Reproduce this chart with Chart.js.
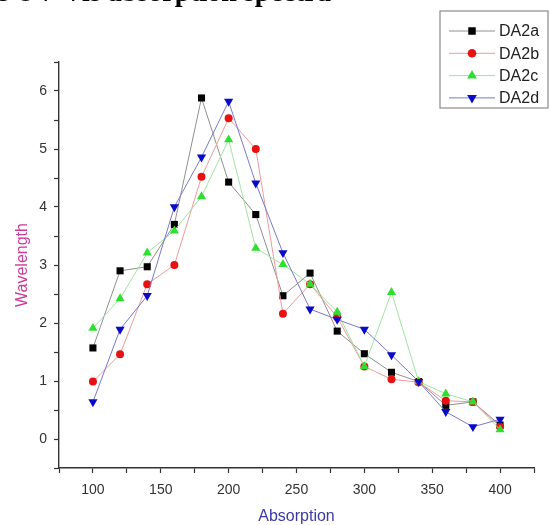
<!DOCTYPE html>
<html>
<head>
<meta charset="utf-8">
<script src="https://cdn.jsdelivr.net/npm/chart.js@4.4.1/dist/chart.umd.min.js"></script>
<style>
  html, body { margin: 0; padding: 0; background: #fff; }
  #wrap { width: 550px; height: 525px; }
</style>
</head>
<body>
<div id="wrap"><canvas id="chart" width="550" height="525"></canvas></div>
<script>
// values
const absorption = [100, 120, 140, 160, 180, 200, 220, 240, 260, 280, 300, 320, 340, 360, 380, 400];
const da2a = [1.57, 2.90, 2.97, 3.70, 5.88, 4.43, 3.87, 2.47, 2.86, 1.86, 1.47, 1.15, 0.99, 0.58, 0.64, 0.24];
const da2b = [0.99, 1.46, 2.67, 3.00, 4.52, 5.53, 5.00, 2.16, 2.67, 2.10, 1.25, 1.03, 0.98, 0.66, 0.64, 0.21];
const da2c = [1.91, 2.42, 3.21, 3.59, 4.18, 5.16, 3.29, 3.01, 2.67, 2.19, 1.25, 2.53, 0.99, 0.78, 0.64, 0.16];
const da2d = [0.64, 1.89, 2.47, 4.00, 4.86, 5.82, 4.41, 3.21, 2.24, 2.06, 1.89, 1.45, 0.99, 0.47, 0.21, 0.34];
const seriesNames = ['DA2a', 'DA2b', 'DA2c', 'DA2d'];
const xTickLabels = [100, 150, 200, 250, 300, 350, 400];
const yTickLabels = [0, 1, 2, 3, 4, 5, 6];

const pts = arr => arr.map((v, i) => ({ x: absorption[i], y: v }));

const mk = (label, values, marker, line, style, radius, rot, order) => ({
  label: label,
  data: pts(values),
  borderColor: line,
  borderWidth: 1,
  backgroundColor: marker,
  pointBackgroundColor: marker,
  pointBorderColor: marker,
  pointBorderWidth: 0,
  pointStyle: style,
  pointRadius: radius,
  pointRotation: rot,
  tension: 0,
  order: order
});

const datasets = [
  mk(seriesNames[0], da2a, '#000000', '#8f8f8f', 'rect', 5, 0, 4),
  mk(seriesNames[1], da2b, '#e81010', '#ee9a9a', 'circle', 4, 0, 3),
  mk(seriesNames[2], da2c, '#2ee02e', '#9fe59f', 'triangle', 5.3, 0, 2),
  mk(seriesNames[3], da2d, '#0a0ac8', '#7878cc', 'triangle', 5.3, 180, 1)
];

// cropped heading at the very top
const topHeading = {
  id: 'topHeading',
  afterDraw(chart) {
    const ctx = chart.ctx;
    ctx.save();
    ctx.font = 'bold 28px "Liberation Serif", "Times New Roman", serif';
    ctx.fillStyle = '#000';
    ctx.textAlign = 'right';
    ctx.textBaseline = 'alphabetic';
    ctx.fillText('The UV-Vis absorption spectra', 331, 1);
    ctx.restore();
  }
};

// Origin-style boxed legend in the top right corner
const boxLegend = {
  id: 'boxLegend',
  afterDraw(chart) {
    const ctx = chart.ctx;
    const x0 = 440, y0 = 11, w = 108, h = 97;
    ctx.save();
    ctx.strokeStyle = '#8a8a8a';
    ctx.lineWidth = 1.2;
    ctx.fillStyle = '#fff';
    ctx.fillRect(x0, y0, w, h);
    ctx.strokeRect(x0, y0, w, h);
    chart.data.datasets.forEach((ds, i) => {
      const y = 31 + i * 22.3;
      ctx.strokeStyle = ds.borderColor;
      ctx.lineWidth = 1;
      ctx.beginPath();
      ctx.moveTo(449, y);
      ctx.lineTo(495, y);
      ctx.stroke();
      ctx.fillStyle = ds.pointBackgroundColor;
      ctx.strokeStyle = ds.pointBorderColor;
      Chart.helpers.drawPoint(ctx, {
        pointStyle: ds.pointStyle,
        rotation: ds.pointRotation,
        radius: ds.pointRadius + 0.3,
        borderWidth: 0
      }, 472, y);
      ctx.fillStyle = '#222';
      ctx.font = '16px "Liberation Sans", Arial, sans-serif';
      ctx.textAlign = 'left';
      ctx.textBaseline = 'middle';
      ctx.fillText(ds.label, 499, y + 1);
    });
    ctx.restore();
  }
};

const tickFont = { family: '"Liberation Sans", Arial, sans-serif', size: 14 };

new Chart(document.getElementById('chart'), {
  type: 'line',
  data: { datasets: datasets },
  options: {
    responsive: false,
    animation: false,
    devicePixelRatio: 1,
    layout: { padding: { top: 62, right: 16, bottom: 0, left: 0 } },
    plugins: {
      legend: { display: false },
      tooltip: { enabled: false }
    },
    scales: {
      x: {
        type: 'linear',
        min: 75,
        max: 425,
        afterFit: s => { s.height = 57; },
        ticks: {
          stepSize: 25,
          autoSkip: false,
          maxRotation: 0,
          color: '#333',
          font: tickFont,
          padding: 9,
          callback: v => xTickLabels.includes(v) ? String(v) : ''
        },
        grid: { drawOnChartArea: false, tickLength: 5, tickColor: '#333', tickWidth: 1.2 },
        border: { display: true, color: '#333', width: 1.4 },
        title: {
          display: true,
          text: 'Absorption',
          color: '#3a3aa8',
          font: { family: '"Liberation Sans", Arial, sans-serif', size: 16, lineHeight: 1 },
          padding: { top: 0, bottom: 0 }
        }
      },
      y: {
        min: -0.5,
        max: 6.5,
        afterFit: s => { s.width = 59; },
        ticks: {
          stepSize: 0.5,
          autoSkip: false,
          color: '#333',
          font: tickFont,
          padding: 7,
          callback: v => yTickLabels.includes(v) ? String(v) : ''
        },
        grid: { drawOnChartArea: false, tickLength: 5, tickColor: '#333', tickWidth: 1.2 },
        border: { display: true, color: '#333', width: 1.4 },
        title: {
          display: true,
          text: 'Wavelength',
          color: '#cc3a98',
          font: { family: '"Liberation Sans", Arial, sans-serif', size: 16, lineHeight: 1 },
          padding: { top: 15, bottom: 0 }
        }
      }
    }
  },
  plugins: [topHeading, boxLegend]
});
</script>
</body>
</html>
